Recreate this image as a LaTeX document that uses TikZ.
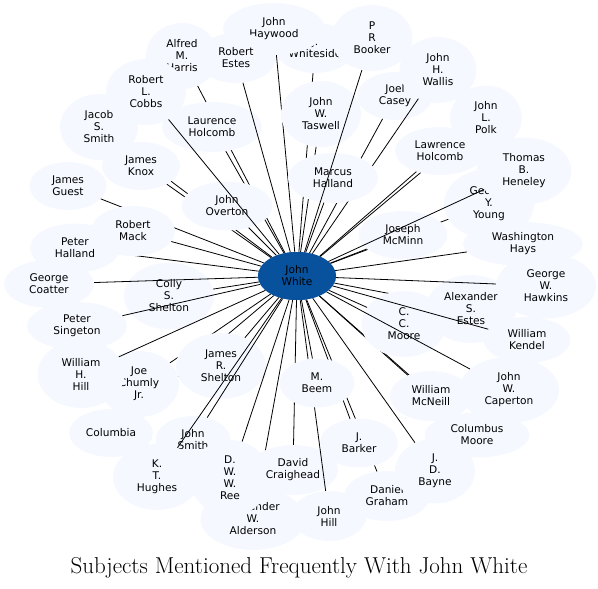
\documentclass[tikz,border=0pt]{standalone}
\usepackage{fontspec}
\newfontfamily\dejavu{DejaVu Sans}
\usetikzlibrary{shapes.geometric}
\definecolor{nodefill}{HTML}{F5F9FF}
\definecolor{centerfill}{HTML}{08519C}
\begin{document}
\begin{tikzpicture}[x=1pt,y=-1pt,
  nd/.style={ellipse, fill=nodefill, inner sep=0pt, align=center,
    font=\dejavu\fontsize{10.6}{12}\selectfont},
  hub/.style={ellipse, fill=centerfill, inner sep=0pt, align=center,
    minimum width=78, minimum height=48,
    font=\dejavu\fontsize{10.6}{12}\selectfont},
  edge/.style={draw=black, line width=0.8pt}]
\useasboundingbox (0,0) rectangle (598,589);
\node[hub] (W) at (297,276) {John\\White};

\node[nd, minimum width=80, minimum height=50] (whiteside) at (315,48) {J.\\Whiteside};
\draw[edge] (W) -- (whiteside);
\node[nd, minimum width=102, minimum height=52] (haywood) at (274,29) {John\\Haywood};
\draw[edge] (W) -- (haywood);
\node[nd, minimum width=72, minimum height=66] (alfred) at (182,56) {Alfred\\M.\\Harris};
\draw[edge] (W) -- (alfred);
\node[nd, minimum width=100, minimum height=50] (laurence) at (212,127) {Laurence\\Holcomb};
\draw[edge] (W) -- (laurence);
\node[nd, minimum width=80, minimum height=50] (restes) at (236,58) {Robert\\Estes};
\draw[edge] (W) -- (restes);
\node[nd, minimum width=80, minimum height=66] (taswell) at (321,114) {John\\W.\\Taswell};
\draw[edge] (W) -- (taswell);
\node[nd, minimum width=75, minimum height=48] (casey) at (395,96) {Joel\\Casey};
\draw[edge] (W) -- (casey);
\node[nd, minimum width=77, minimum height=66] (wallis) at (438,70) {John\\H.\\Wallis};
\draw[edge] (W) -- (wallis);
\node[nd, minimum width=90, minimum height=50] (marcus) at (333,178) {Marcus\\Halland};
\draw[edge] (W) -- (marcus);
\node[nd, minimum width=81, minimum height=66] (booker) at (372,38) {P\\R\\Booker};
\draw[edge] (W) -- (booker);
\node[nd, minimum width=78, minimum height=66] (jacob) at (99,127) {Jacob\\S.\\Smith};
\draw[edge] (W) -- (jacob);
\node[nd, minimum width=78, minimum height=48] (knox) at (141,166) {James\\Knox};
\draw[edge] (W) -- (knox);
\node[nd, minimum width=91, minimum height=49] (overton) at (227,206) {John\\Overton};
\draw[edge] (W) -- (overton);
\node[nd, minimum width=80, minimum height=66] (cobbs) at (146,92) {Robert\\L.\\Cobbs};
\draw[edge] (W) -- (cobbs);
\node[nd, minimum width=77, minimum height=48] (guest) at (68,186) {James\\Guest};
\draw[edge] (W) -- (guest);
\node[nd, minimum width=90, minimum height=49] (phalland) at (75,248) {Peter\\Halland};
\draw[edge] (W) -- (phalland);
\node[nd, minimum width=84, minimum height=50] (mack) at (133,231) {Robert\\Mack};
\draw[edge] (W) -- (mack);
\node[nd, minimum width=90, minimum height=67] (colly) at (169,296) {Colly\\S.\\Shelton};
\draw[edge] (W) -- (colly);
\node[nd, minimum width=90, minimum height=48] (coatter) at (49,284) {George\\Coatter};
\draw[edge] (W) -- (coatter);
\node[nd, minimum width=100, minimum height=48] (singeton) at (77,326) {Peter\\Singeton};
\draw[edge] (W) -- (singeton);
\node[nd, minimum width=84, minimum height=48] (columbia) at (111,433) {Columbia};
\draw[edge] (W) -- (columbia);
\node[nd, minimum width=80, minimum height=66] (joe) at (139,384) {Joe\\Chumly\\Jr.};
\draw[edge] (W) -- (joe);
\node[nd, minimum width=87, minimum height=68] (whhill) at (81,374) {William\\H.\\Hill};
\draw[edge] (W) -- (whhill);
\node[nd, minimum width=90, minimum height=66] (jrshelton) at (221,366) {James\\R.\\Shelton};
\draw[edge] (W) -- (jrshelton);
\node[nd, minimum width=75, minimum height=48] (smith) at (193,440) {John\\Smith};
\draw[edge] (W) -- (smith);
\node[nd, minimum width=88, minimum height=66] (hughes) at (157,477) {K.\\T.\\Hughes};
\draw[edge] (W) -- (hughes);
\node[nd, minimum width=105, minimum height=62] (alderson) at (253,519) {Alexander\\W.\\Alderson};
\draw[edge] (W) -- (alderson);
\node[nd, minimum width=80, minimum height=76] (ree) at (230,478) {D.\\W.\\W.\\Ree};
\draw[edge] (W) -- (ree);
\node[nd, minimum width=90, minimum height=50] (craighead) at (293,470) {David\\Craighead};
\draw[edge] (W) -- (craighead);
\node[nd, minimum width=75, minimum height=50] (jhill) at (329,516) {John\\Hill};
\draw[edge] (W) -- (jhill);
\node[nd, minimum width=86, minimum height=50] (graham) at (387,496) {Daniel\\Graham};
\draw[edge] (W) -- (graham);
\node[nd, minimum width=78, minimum height=49] (barker) at (359,443) {J.\\Barker};
\draw[edge] (W) -- (barker);
\node[nd, minimum width=75, minimum height=49] (beem) at (317,383) {M.\\Beem};
\draw[edge] (W) -- (beem);
\node[nd, minimum width=80, minimum height=65] (bayne) at (435,471) {J.\\D.\\Bayne};
\draw[edge] (W) -- (bayne);
\node[nd, minimum width=105, minimum height=45] (columbus) at (477,435) {Columbus\\Moore};
\draw[edge] (W) -- (columbus);
\node[nd, minimum width=82, minimum height=50] (mcneill) at (431,396) {William\\McNeill};
\draw[edge] (W) -- (mcneill);
\node[nd, minimum width=90, minimum height=68] (aestes) at (471,309) {Alexander\\S.\\Estes};
\draw[edge] (W) -- (aestes);
\node[nd, minimum width=85, minimum height=66] (ccmoore) at (404,324) {C.\\C.\\Moore};
\draw[edge] (W) -- (ccmoore);
\node[nd, minimum width=100, minimum height=66] (caperton) at (509,390) {John\\W.\\Caperton};
\draw[edge] (W) -- (caperton);
\node[nd, minimum width=87, minimum height=46] (kendel) at (527,340) {William\\Kendel};
\draw[edge] (W) -- (kendel);
\node[nd, minimum width=100, minimum height=65] (hawkins) at (546,286) {George\\W.\\Hawkins};
\draw[edge] (W) -- (hawkins);
\node[nd, minimum width=90, minimum height=70] (young) at (489,204) {George\\Y.\\Young};
\draw[edge] (W) -- (young);
\node[nd, minimum width=89, minimum height=48] (mcminn) at (403,235) {Joseph\\McMinn};
\draw[edge] (W) -- (mcminn);
\node[nd, minimum width=95, minimum height=67] (heneley) at (524,171) {Thomas\\B.\\Heneley};
\draw[edge] (W) -- (heneley);
\node[nd, minimum width=120, minimum height=44] (hays) at (523,244) {Washington\\Hays};
\draw[edge] (W) -- (hays);
\node[nd, minimum width=72, minimum height=65] (polk) at (486,118) {John\\L.\\Polk};
\draw[edge] (W) -- (polk);
\node[nd, minimum width=90, minimum height=48] (lawrence) at (440,151) {Lawrence\\Holcomb};
\draw[edge] (W) -- (lawrence);

\node[hub] at (297,276) {John\\White};
\node (title) at (299,568) {\fontsize{23}{26}\selectfont Subjects Mentioned Frequently With John White};
\end{tikzpicture}
\end{document}
